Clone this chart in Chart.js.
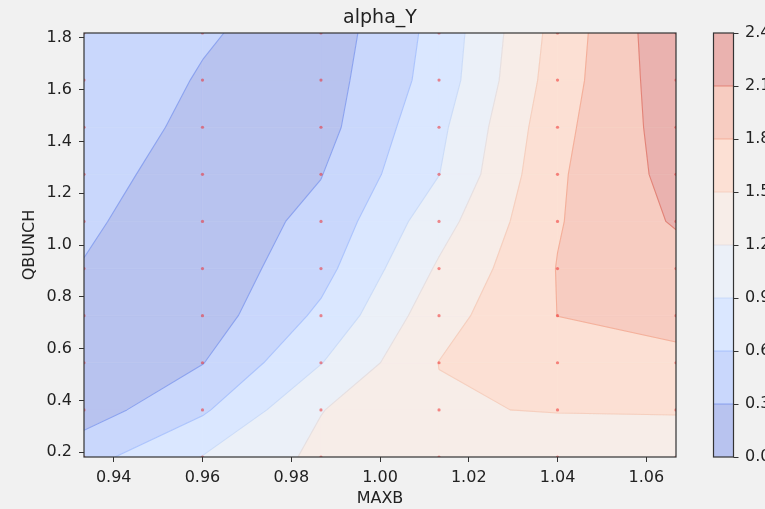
<!DOCTYPE html>
<html>
<head>
<meta charset="utf-8">
<script src="https://cdn.jsdelivr.net/npm/chart.js@4.4.1/dist/chart.umd.min.js"></script>
<style>
  html, body { margin: 0; padding: 0; background: #f1f1f1; }
  canvas { display: block; }
</style>
</head>
<body>
<canvas id="contour" width="765" height="509"></canvas>
<script>
// scan grid: MAXB across, QBUNCH up
const maxb = [0.9333, 0.96, 0.9867, 1.0133, 1.04, 1.0667];
const qbunch = [0.1818, 0.3636, 0.5455, 0.7273, 0.9091, 1.0909, 1.2727, 1.4545, 1.6364, 1.8182];

// alpha_Y, one row per QBUNCH value, one column per MAXB value
const alphaY = [
  [0.49,  0.91,  1.27,  1.33,  1.22,  1.30],
  [0.155, 0.555, 1.19,  1.47,  1.52,  1.524],
  [0.10,  0.29,  0.89,  1.505, 1.66,  1.70],
  [0.15,  0.144, 0.66,  1.39,  1.802, 1.927],
  [0.285, 0.104, 0.496, 1.24,  1.81,  1.96],
  [0.35,  0.10,  0.385, 1.08,  1.78,  2.13],
  [0.45,  0.11,  0.29,  0.895, 1.76,  2.20],
  [0.52,  0.20,  0.19,  0.83,  1.715, 2.245],
  [0.56,  0.27,  0.16,  0.73,  1.655, 2.29],
  [0.58,  0.34,  0.118, 0.70,  1.614, 2.33]
];

const levels = [0.0, 0.3, 0.6, 0.9, 1.2, 1.5, 1.8, 2.1, 2.4];
const xTicks = [0.94, 0.96, 0.98, 1.00, 1.02, 1.04, 1.06];
const yTicks = [0.2, 0.4, 0.6, 0.8, 1.0, 1.2, 1.4, 1.6, 1.8];

// coolwarm sampled at the middle of each band
const bandRgb = [
  [77, 104, 216], [119, 154, 247], [163, 194, 255], [204, 217, 238],
  [236, 211, 198], [247, 177, 148], [236, 127, 99], [203, 62, 56]
];
const FILL_ALPHA = 0.4;
const FONT = 'DejaVu Sans';
const INK = '#222';

// flatten the fill colour onto the white axes so neighbouring cells don't seam
function bandColor(k) {
  const c = bandRgb[k].map(v => Math.round(255 - FILL_ALPHA * (255 - v)));
  return `rgb(${c.join(',')})`;
}

function lineColor(k) {
  const a = bandRgb[k - 1], b = bandRgb[k];
  const c = a.map((v, n) => Math.round((v + b[n]) / 2));
  return `rgba(${c.join(',')},0.6)`;
}

// region of one grid cell that lies between lo and hi, walking the cell edges
function bandPolygon(q, lo, hi) {
  const out = [];
  const inside = z => z >= lo && z < hi;
  for (let k = 0; k < 4; k++) {
    const a = q[k], b = q[(k + 1) % 4];
    if (inside(a.z)) out.push(a);
    const cross = [];
    [lo, hi].forEach(L => {
      if ((a.z < L) !== (b.z < L)) {
        const t = (L - a.z) / (b.z - a.z);
        cross.push({ t, x: a.x + t * (b.x - a.x), y: a.y + t * (b.y - a.y) });
      }
    });
    cross.sort((p, r) => p.t - r.t).forEach(p => out.push(p));
  }
  return out;
}

function levelCrossings(q, L) {
  const pts = [];
  for (let k = 0; k < 4; k++) {
    const a = q[k], b = q[(k + 1) % 4];
    if ((a.z < L) !== (b.z < L)) {
      const t = (L - a.z) / (b.z - a.z);
      pts.push({ x: a.x + t * (b.x - a.x), y: a.y + t * (b.y - a.y) });
    }
  }
  return pts;
}

function gridCells(x, y) {
  const cells = [];
  for (let j = 0; j < qbunch.length - 1; j++) {
    for (let i = 0; i < maxb.length - 1; i++) {
      const c = (ii, jj) => ({ x: x.getPixelForValue(maxb[ii]), y: y.getPixelForValue(qbunch[jj]), z: alphaY[jj][ii] });
      cells.push([c(i, j), c(i + 1, j), c(i + 1, j + 1), c(i, j + 1)]);
    }
  }
  return cells;
}

const contourPlugin = {
  id: 'contourFill',
  beforeDatasetsDraw(chart) {
    const { ctx, chartArea: area, scales: { x, y } } = chart;
    ctx.save();
    ctx.beginPath();
    ctx.rect(area.left, area.top, area.width, area.height);
    ctx.clip();
    ctx.fillStyle = '#fff';
    ctx.fillRect(area.left, area.top, area.width, area.height);

    const cells = gridCells(x, y);
    for (let k = 0; k < levels.length - 1; k++) {
      ctx.fillStyle = bandColor(k);
      ctx.strokeStyle = bandColor(k);
      ctx.lineWidth = 0.6;
      cells.forEach(q => {
        const poly = bandPolygon(q, levels[k], levels[k + 1]);
        if (poly.length < 3) return;
        ctx.beginPath();
        poly.forEach((p, n) => n ? ctx.lineTo(p.x, p.y) : ctx.moveTo(p.x, p.y));
        ctx.closePath();
        ctx.fill();
        ctx.stroke();
      });
    }

    // band edges
    ctx.lineWidth = 1.1;
    for (let k = 1; k < levels.length - 1; k++) {
      ctx.strokeStyle = lineColor(k);
      ctx.beginPath();
      cells.forEach(q => {
        const pts = levelCrossings(q, levels[k]);
        for (let n = 0; n + 1 < pts.length; n += 2) {
          ctx.moveTo(pts[n].x, pts[n].y);
          ctx.lineTo(pts[n + 1].x, pts[n + 1].y);
        }
      });
      ctx.stroke();
    }
    ctx.restore();
  },
  afterDatasetsDraw(chart) {
    const { ctx, chartArea: area } = chart;
    ctx.save();
    ctx.strokeStyle = '#333';
    ctx.lineWidth = 1.2;
    ctx.strokeRect(area.left, area.top, area.width, area.height);
    ctx.restore();
  },
  afterDraw(chart) {
    const { ctx } = chart;
    const cb = chart.scales.cb;
    const x0 = cb.left + 37.5, w = 20;
    const top = cb.getPixelForValue(levels[levels.length - 1]);
    const bottom = cb.getPixelForValue(levels[0]);
    ctx.save();
    for (let k = 0; k < levels.length - 1; k++) {
      const y1 = cb.getPixelForValue(levels[k + 1]);
      const y0 = cb.getPixelForValue(levels[k]);
      ctx.fillStyle = bandColor(k);
      ctx.fillRect(x0, y1, w, y0 - y1);
    }
    ctx.lineWidth = 1;
    for (let k = 1; k < levels.length - 1; k++) {
      const yy = cb.getPixelForValue(levels[k]);
      ctx.strokeStyle = lineColor(k);
      ctx.beginPath();
      ctx.moveTo(x0, yy);
      ctx.lineTo(x0 + w, yy);
      ctx.stroke();
    }
    ctx.strokeStyle = '#333';
    ctx.lineWidth = 1.2;
    ctx.strokeRect(x0, top, w, bottom - top);
    ctx.lineWidth = 1;
    levels.forEach(v => {
      const yy = Math.round(cb.getPixelForValue(v)) + 0.5;
      ctx.beginPath();
      ctx.moveTo(x0 + w, yy);
      ctx.lineTo(x0 + w + 5, yy);
      ctx.stroke();
    });
    ctx.restore();
  }
};

const points = [];
qbunch.forEach(q => maxb.forEach(m => points.push({ x: m, y: q })));

const tickFont = { family: FONT, size: 16 };
const axisGrid = { drawOnChartArea: false, drawTicks: true, tickLength: 5, color: '#333' };

// fixed box sizes; label overhang padding is dropped so the plot keeps its frame
const fitBox = (w, h) => s => {
  if (w) s.width = w;
  if (h) s.height = h;
  s.paddingTop = 0;
  s.paddingBottom = 0;
  s.paddingLeft = 0;
  s.paddingRight = 0;
};

new Chart(document.getElementById('contour'), {
  type: 'scatter',
  data: {
    datasets: [{
      data: points,
      pointRadius: 1.6,
      pointHoverRadius: 1.6,
      pointBorderWidth: 0,
      pointBackgroundColor: 'rgba(240,30,30,0.5)'
    }]
  },
  options: {
    responsive: false,
    animation: false,
    devicePixelRatio: 1,
    layout: { padding: 0 },
    events: [],
    plugins: {
      legend: { display: false },
      tooltip: { enabled: false },
      title: {
        display: true,
        text: 'alpha_Y',
        fullSize: false,
        color: INK,
        font: { family: FONT, size: 19, weight: 'normal' },
        padding: { top: 6.3, bottom: 3.9 }
      }
    },
    scales: {
      x: {
        type: 'linear',
        bounds: 'data',
        min: maxb[0],
        max: maxb[maxb.length - 1],
        afterBuildTicks: s => { s.ticks = xTicks.map(v => ({ value: v })); },
        afterFit: fitBox(0, 52),
        grid: axisGrid,
        border: { display: false },
        ticks: {
          color: INK, font: tickFont, padding: 6, maxRotation: 0, autoSkip: false,
          callback: v => v.toFixed(2)
        },
        title: {
          display: true, text: 'MAXB', color: INK, font: tickFont,
          padding: { top: 0, bottom: 0.5 }
        }
      },
      y: {
        type: 'linear',
        position: 'left',
        bounds: 'data',
        min: qbunch[0],
        max: qbunch[qbunch.length - 1],
        afterBuildTicks: s => { s.ticks = yTicks.map(v => ({ value: v })); },
        afterFit: fitBox(84, 0),
        grid: axisGrid,
        border: { display: false },
        ticks: {
          color: INK, font: tickFont, padding: 7, autoSkip: false,
          callback: v => v.toFixed(1)
        },
        title: {
          display: true, text: 'QBUNCH', color: INK, font: tickFont,
          padding: { top: 20, bottom: 0 }
        }
      },
      cb: {
        type: 'linear',
        position: 'right',
        bounds: 'data',
        min: levels[0],
        max: levels[levels.length - 1],
        afterBuildTicks: s => { s.ticks = levels.map(v => ({ value: v })); },
        afterFit: fitBox(89, 0),
        grid: { display: false, drawTicks: false, tickLength: 0 },
        border: { display: false },
        ticks: {
          color: INK, font: tickFont, padding: 69, autoSkip: false,
          callback: v => v.toFixed(1)
        }
      }
    }
  },
  plugins: [contourPlugin]
});
</script>
</body>
</html>
